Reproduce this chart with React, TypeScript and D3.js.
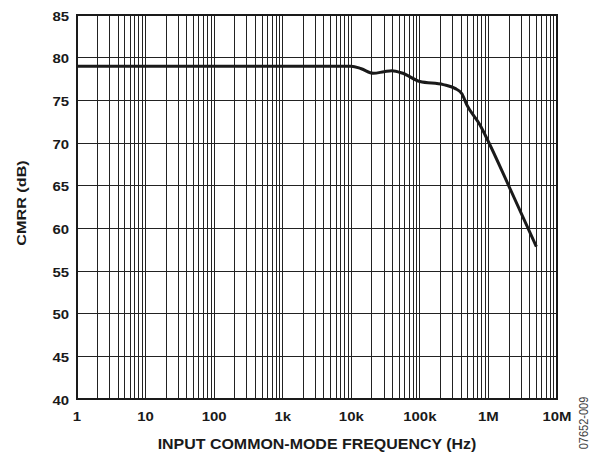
import React, { useEffect, useRef } from "react";
import * as d3 from "d3";

// CMRR vs input common-mode frequency
const freqHz = [1, 10, 100, 1000, 5000, 10000, 14000, 21000, 30000, 39000, 55000, 100000, 220000, 325000, 408000, 482000, 754000, 1000000, 2000000, 5000000];
const cmrrDb = [79, 79, 79, 79, 79, 79, 78.7, 78.17, 78.35, 78.47, 78.2, 77.2, 76.84, 76.4, 75.8, 74.5, 72.1, 70.15, 64.9, 57.85];

const xTickValues = [1, 10, 100, 1e3, 1e4, 1e5, 1e6, 1e7];
const xTickLabels = ["1", "10", "100", "1k", "10k", "100k", "1M", "10M"];
const yTickValues = [40, 45, 50, 55, 60, 65, 70, 75, 80, 85];

const App: React.FC = () => {
  const svgRef = useRef<SVGSVGElement | null>(null);

  useEffect(() => {
    const width = 598;
    const height = 452;
    const margin = { top: 15, right: 41, bottom: 53, left: 77 };
    const ink = "#1a1a1a";
    const font = "'Liberation Sans', Arial, sans-serif";
    const stretch = 1.15; // the original type is set wide

    const svg = d3.select(svgRef.current);
    svg.selectAll("*").remove();

    const x = d3
      .scaleLog()
      .domain([1, 1e7])
      .range([margin.left, width - margin.right]);
    const y = d3
      .scaleLinear()
      .domain([40, 85])
      .range([height - margin.bottom, margin.top]);

    // minor + major vertical grid
    const vLines: number[] = [];
    for (let p = 0; p < 7; p++) {
      for (let m = 1; m <= 9; m++) vLines.push(m * Math.pow(10, p));
    }
    vLines.push(1e7);

    const grid = svg.append("g").attr("shape-rendering", "crispEdges");
    grid
      .selectAll("line.v")
      .data(vLines)
      .enter()
      .append("line")
      .attr("x1", (d) => x(d))
      .attr("x2", (d) => x(d))
      .attr("y1", y(40))
      .attr("y2", y(85))
      .attr("stroke", "#222")
      .attr("stroke-width", 1);

    grid
      .selectAll("line.h")
      .data(yTickValues)
      .enter()
      .append("line")
      .attr("x1", x(1))
      .attr("x2", x(1e7))
      .attr("y1", (d) => y(d))
      .attr("y2", (d) => y(d))
      .attr("stroke", "#222")
      .attr("stroke-width", 1);

    // frame
    svg
      .append("rect")
      .attr("x", x(1))
      .attr("y", y(85))
      .attr("width", x(1e7) - x(1))
      .attr("height", y(40) - y(85))
      .attr("fill", "none")
      .attr("stroke", ink)
      .attr("stroke-width", 2);

    // curve
    const data = freqHz.map((f, i) => ({ f, v: cmrrDb[i] }));
    const line = d3
      .line<{ f: number; v: number }>()
      .x((d) => x(d.f))
      .y((d) => y(d.v))
      .curve(d3.curveMonotoneX);

    svg
      .append("path")
      .datum(data)
      .attr("d", line)
      .attr("fill", "none")
      .attr("stroke", ink)
      .attr("stroke-width", 3)
      .attr("stroke-linejoin", "round");

    // y tick labels
    svg
      .append("g")
      .selectAll("text")
      .data(yTickValues)
      .enter()
      .append("text")
      .attr("transform", (d) => `translate(69, ${y(d) + 5.5}) scale(${stretch},1)`)
      .attr("text-anchor", "end")
      .attr("font-family", font)
      .attr("font-weight", "bold")
      .attr("font-size", 13)
      .attr("fill", ink)
      .text((d) => String(d));

    // x tick labels
    svg
      .append("g")
      .selectAll("text")
      .data(xTickValues)
      .enter()
      .append("text")
      .attr("transform", (d) => `translate(${x(d)}, 420.5) scale(${stretch},1)`)
      .attr("text-anchor", "middle")
      .attr("font-family", font)
      .attr("font-weight", "bold")
      .attr("font-size", 13)
      .attr("fill", ink)
      .text((_, i) => xTickLabels[i]);

    // axis titles
    svg
      .append("text")
      .attr("transform", `translate(317, 449) scale(1.14,1)`)
      .attr("text-anchor", "middle")
      .attr("font-family", font)
      .attr("font-weight", "bold")
      .attr("font-size", 14)
      .attr("fill", ink)
      .text("INPUT COMMON-MODE FREQUENCY (Hz)");

    svg
      .append("text")
      .attr("transform", `translate(25.5, 203) rotate(-90) scale(1.2,1)`)
      .attr("text-anchor", "middle")
      .attr("font-family", font)
      .attr("font-weight", "bold")
      .attr("font-size", 13.5)
      .attr("fill", ink)
      .text("CMRR (dB)");

    svg
      .append("text")
      .attr("transform", `translate(587.5, 423) rotate(-90) scale(0.88,1)`)
      .attr("text-anchor", "middle")
      .attr("font-family", font)
      .attr("font-size", 12.5)
      .attr("fill", "#444")
      .text("07652-009");
  }, []);

  return (
    <svg
      ref={svgRef}
      width={598}
      height={452}
      style={{ position: "absolute", left: 0, top: 0, background: "#fff" }}
    ></svg>
  );
};

export default App;
